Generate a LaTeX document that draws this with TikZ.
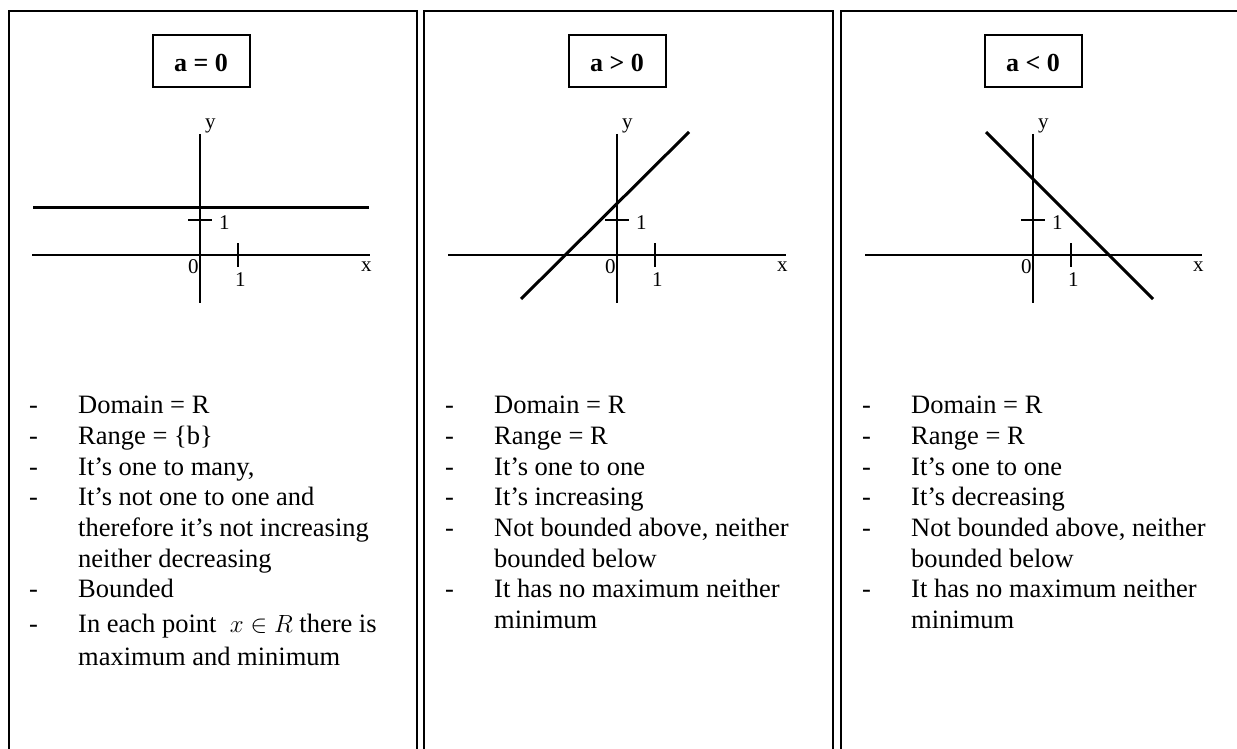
\documentclass[tikz,border=0pt]{standalone}
\usepackage{fontspec}
\setmainfont{Liberation Serif}
\usetikzlibrary{positioning}
\newcommand{\dashitem}[1]{\makebox[49pt][l]{-}#1}
\newcommand{\contline}[1]{\hspace*{49pt}#1}

\begin{document}
\begin{tikzpicture}[x=1pt, y=-1pt,
    frame/.style={line width=2.2pt},
    casebox/.style={draw, line width=2pt, minimum width=97pt, minimum height=52pt, inner sep=0pt, text height=22pt, text depth=0pt, font=\fontsize{26}{30}\selectfont\bfseries},
    axis/.style={line width=2pt},
    graphline/.style={line width=3pt},
    ticklabel/.style={inner sep=0pt, anchor=base west, font=\fontsize{21}{24}\selectfont},
    props/.style={inner sep=0pt, anchor=north west, align=left, font=\fontsize{26.5}{30.7}\selectfont}
]
\useasboundingbox (0,0) rectangle (1237,749);

% Panel frames
\draw[frame] (9,749) -- (9,11) -- (417,11) -- (417,749);
\draw[frame] (424,749) -- (424,11) -- (833,11) -- (833,749);
\draw[frame] (841,749) -- (841,11) -- (1237,11);

% Case boxes
\node[casebox] (zerocase) at (201,61) {a = 0};
\node[casebox] (poscase) at (617,61) {a > 0};
\node[casebox] (negcase) at (1033,61) {a < 0};

% Graph: a = 0
\begin{scope}[shift={(200,255)}]
  \draw[axis] (-168,0) -- (170,0);
  \draw[axis] (0,-121) -- (0,48);
  \draw[axis] (-12,-35) -- (12,-35);
  \draw[axis] (38,-12) -- (38,12);
  \draw[graphline] (-167,-48) -- (169,-48);
  \node[ticklabel] (ylabA) at (5,-126) {y};
  \node[ticklabel] (yoneA) at (19,-26) {1};
  \node[ticklabel] (zeroA) at (-12,18) {0};
  \node[ticklabel] (xoneA) at (35,31) {1};
  \node[ticklabel] (xlabA) at (161,16) {x};
\end{scope}

% Graph: a > 0
\begin{scope}[shift={(617,255)}]
  \draw[axis] (-169,0) -- (169,0);
  \draw[axis] (0,-121) -- (0,48);
  \draw[axis] (-12,-35) -- (12,-35);
  \draw[axis] (38,-12) -- (38,12);
  \draw[graphline] (-96,44) -- (72,-123);
  \node[ticklabel] (ylabB) at (5,-126) {y};
  \node[ticklabel] (yoneB) at (19,-26) {1};
  \node[ticklabel] (zeroB) at (-12,18) {0};
  \node[ticklabel] (xoneB) at (35,31) {1};
  \node[ticklabel] (xlabB) at (160,16) {x};
\end{scope}

% Graph: a < 0
\begin{scope}[shift={(1033,255)}]
  \draw[axis] (-168,0) -- (169,0);
  \draw[axis] (0,-121) -- (0,48);
  \draw[axis] (-12,-35) -- (12,-35);
  \draw[axis] (38,-12) -- (38,12);
  \draw[graphline] (-47,-123) -- (120,44);
  \node[ticklabel] (ylabC) at (5,-126) {y};
  \node[ticklabel] (yoneC) at (19,-26) {1};
  \node[ticklabel] (zeroC) at (-12,18) {0};
  \node[ticklabel] (xoneC) at (35,31) {1};
  \node[ticklabel] (xlabC) at (160,16) {x};
\end{scope}

% Properties
\node[props] (zeroprops) at (29,396) {%
  \dashitem{Domain = R}\\
  \dashitem{Range = \{b\}}\\
  \dashitem{It’s one to many,}\\
  \dashitem{It’s not one to one and}\\
  \contline{therefore it’s not increasing}\\
  \contline{neither decreasing}\\
  \dashitem{Bounded}\\[4pt]
  \dashitem{In each point \ {\fontsize{30}{30}\selectfont$x\in R$} there is}\\[2pt]
  \contline{maximum and minimum}};
\node[props] (posprops) at (445,396) {%
  \dashitem{Domain = R}\\
  \dashitem{Range = R}\\
  \dashitem{It’s one to one}\\
  \dashitem{It’s increasing}\\
  \dashitem{Not bounded above, neither}\\
  \contline{bounded below}\\
  \dashitem{It has no maximum neither}\\
  \contline{minimum}};
\node[props] (negprops) at (862,396) {%
  \dashitem{Domain = R}\\
  \dashitem{Range = R}\\
  \dashitem{It’s one to one}\\
  \dashitem{It’s decreasing}\\
  \dashitem{Not bounded above, neither}\\
  \contline{bounded below}\\
  \dashitem{It has no maximum neither}\\
  \contline{minimum}};

\end{tikzpicture}
\end{document}
